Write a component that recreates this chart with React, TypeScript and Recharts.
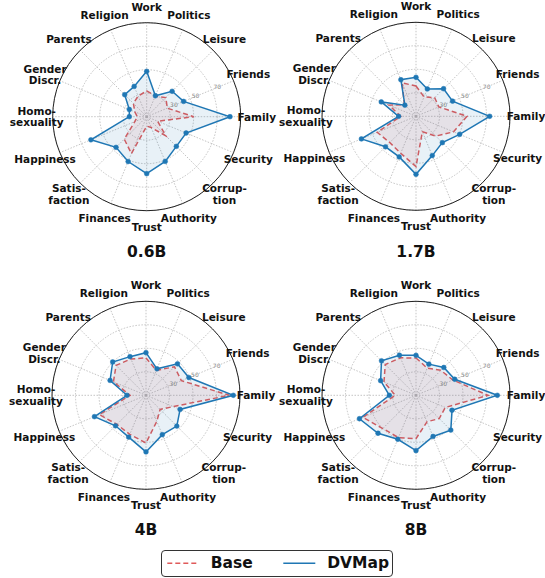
import { RadarChart, Radar, PolarGrid, PolarAngleAxis, PolarRadiusAxis } from 'recharts'

const FONT = '"DejaVu Sans", sans-serif'

// categories, clockwise from the top
const categories = [
  'Work', 'Politics', 'Leisure', 'Friends', 'Family', 'Security', 'Corrup-\ntion', 'Authority',
  'Trust', 'Finances', 'Satis-\nfaction', 'Happiness', 'Homo-\nsexuality', 'Gender\nDiscr.', 'Parents', 'Religion',
]

const base06 = [32, 29, 33, 29, 50, 20, 33, 20, 18, 44, 37, 21, 18, 21, 26, 29]
const dvmap06 = [48.6, 29.3, 40.6, 44, 80.9, 46.3, 45.7, 51.2, 58.5, 51.3, 46.9, 61.4, 24.8, 26, 36.5, 37.9]

const base17 = [35.8, 27.9, 32.5, 31, 53.4, 44.6, 33.8, 24.2, 52.8, 44, 41.6, 45.7, 23, 34.9, 24, 40.8]
const dvmap17 = [43.2, 35.2, 43.2, 43.7, 72.7, 50.2, 41.7, 46.2, 59.4, 47.4, 46.7, 60.3, 24.8, 42, 23.4, 43.7]

const base4 = [41.8, 33, 44.3, 42.6, 80.9, 35.1, 27, 34, 50.6, 46, 45, 53, 23.6, 40, 46, 43.5]
const dvmap4 = [46.3, 34.4, 47.9, 49.5, 84.3, 41.4, 47.1, 46.3, 58.2, 48.5, 46.7, 57.5, 26.2, 43.1, 50.1, 45.6]

const base8 = [41.8, 35, 40, 44, 71.3, 37, 38, 34.4, 46.9, 49, 50, 59, 27.6, 39.5, 47, 44.5]
const dvmap8 = [44, 38.7, 43.5, 45.7, 79.2, 43.2, 51.9, 47.9, 57.1, 50.5, 55.7, 62.1, 32.7, 42.6, 51.5, 46.9]

const RED = '#e05a5a'
const BLUE = '#1f77b4'

function AngleTick(props: any) {
  const { x, y, payload } = props
  const lines = String(payload.value).split('\n')
  const lh = 11.7
  return (
    <text textAnchor="middle" fontFamily={FONT} fontSize={10.5} fontWeight="bold" fill="#111">
      {lines.map((l, i) => (
        <tspan key={i} x={x} y={y + (i - (lines.length - 1) / 2) * lh + 3.8}>{l}</tspan>
      ))}
    </text>
  )
}

function RadiusTick(props: any) {
  const { x, y, payload } = props
  if (payload.value === 10 || payload.value === 90) return <g />
  return (
    <text x={x + 5.5} y={y - 2.3 + 2} textAnchor="middle" fontFamily={FONT} fontSize={6} fill="#888">
      {payload.value}
    </text>
  )
}

function Panel({ title, base, dvmap, left, top, width, cx, cy }: { title: string; base: number[]; dvmap: number[]; left: number; top: number; width: number; cx: number; cy: number }) {
  const rows = categories.map((c, i) => ({ cat: c, base: base[i], dvmap: dvmap[i] }))
  return (
    <div style={{ position: 'absolute', left, top, width, height: 270 }}>
      <RadarChart width={width} height={250} data={rows} cx={cx} cy={cy} outerRadius={94} margin={{ top: 0, right: 0, bottom: 0, left: 0 }}>
        <PolarGrid gridType="circle" stroke="#b5b5b5" strokeDasharray="1.5 1.5" strokeWidth={0.8} />
        <PolarAngleAxis dataKey="cat" tick={AngleTick} tickSize={16} tickLine={false} axisLineType="circle" stroke="#222" axisLine={{ stroke: '#222', strokeWidth: 1 }} />
        <PolarRadiusAxis angle={22.5} type="number" domain={[10, 90]} tickCount={5} tick={RadiusTick} axisLine={false} />
        <Radar name="Base" dataKey="base" stroke={RED} strokeWidth={1.5} strokeDasharray="5 3" fill={RED} fillOpacity={0.1} dot={false} isAnimationActive={false} />
        <Radar name="DVMap" dataKey="dvmap" stroke={BLUE} strokeWidth={1.5} fill={BLUE} fillOpacity={0.1}
          dot={{ r: 2.4, fill: BLUE, fillOpacity: 1, stroke: BLUE, strokeWidth: 0.5, strokeDasharray: 'none' }} isAnimationActive={false} />
      </RadarChart>
      <div style={{ position: 'absolute', left: cx - 50, top: 243, width: 100, textAlign: 'center', fontFamily: FONT, fontWeight: 'bold', fontSize: 15.5, lineHeight: '18px', color: '#111' }}>
        {title}
      </div>
    </div>
  )
}

export default function App() {
  return (
    <div style={{ position: 'absolute', left: 0, top: 0, width: 545, height: 578, background: '#fff', overflow: 'hidden' }}>
      <Panel title="0.6B" base={base06} dvmap={dvmap06} left={0} top={0} width={290} cx={146.7} cy={116.7} />
      <Panel title="1.7B" base={base17} dvmap={dvmap17} left={262} top={0} width={283} cx={154} cy={116.3} />
      <Panel title="4B" base={base4} dvmap={dvmap4} left={0} top={278} width={290} cx={146} cy={117.3} />
      <Panel title="8B" base={base8} dvmap={dvmap8} left={262} top={278} width={283} cx={154} cy={117.3} />
      <div style={{ position: 'absolute', left: 160.7, top: 550.3, width: 230, height: 25, border: '1px solid #333', borderRadius: 4, background: '#fff', fontFamily: FONT, fontWeight: 'bold', fontSize: 15.5, color: '#111' }}>
        <svg width={230} height={25} style={{ position: 'absolute', left: 0, top: 0 }}>
          <line x1={5.3} x2={36} y1={12.2} y2={12.2} stroke={RED} strokeWidth={1.5} strokeDasharray="5 3" />
          <line x1={121.3} x2={153.3} y1={12.2} y2={12.2} stroke={BLUE} strokeWidth={1.5} />
        </svg>
        <span style={{ position: 'absolute', left: 49, top: 3, lineHeight: '18px' }}>Base</span>
        <span style={{ position: 'absolute', left: 165.5, top: 3, lineHeight: '18px' }}>DVMap</span>
      </div>
    </div>
  )
}
